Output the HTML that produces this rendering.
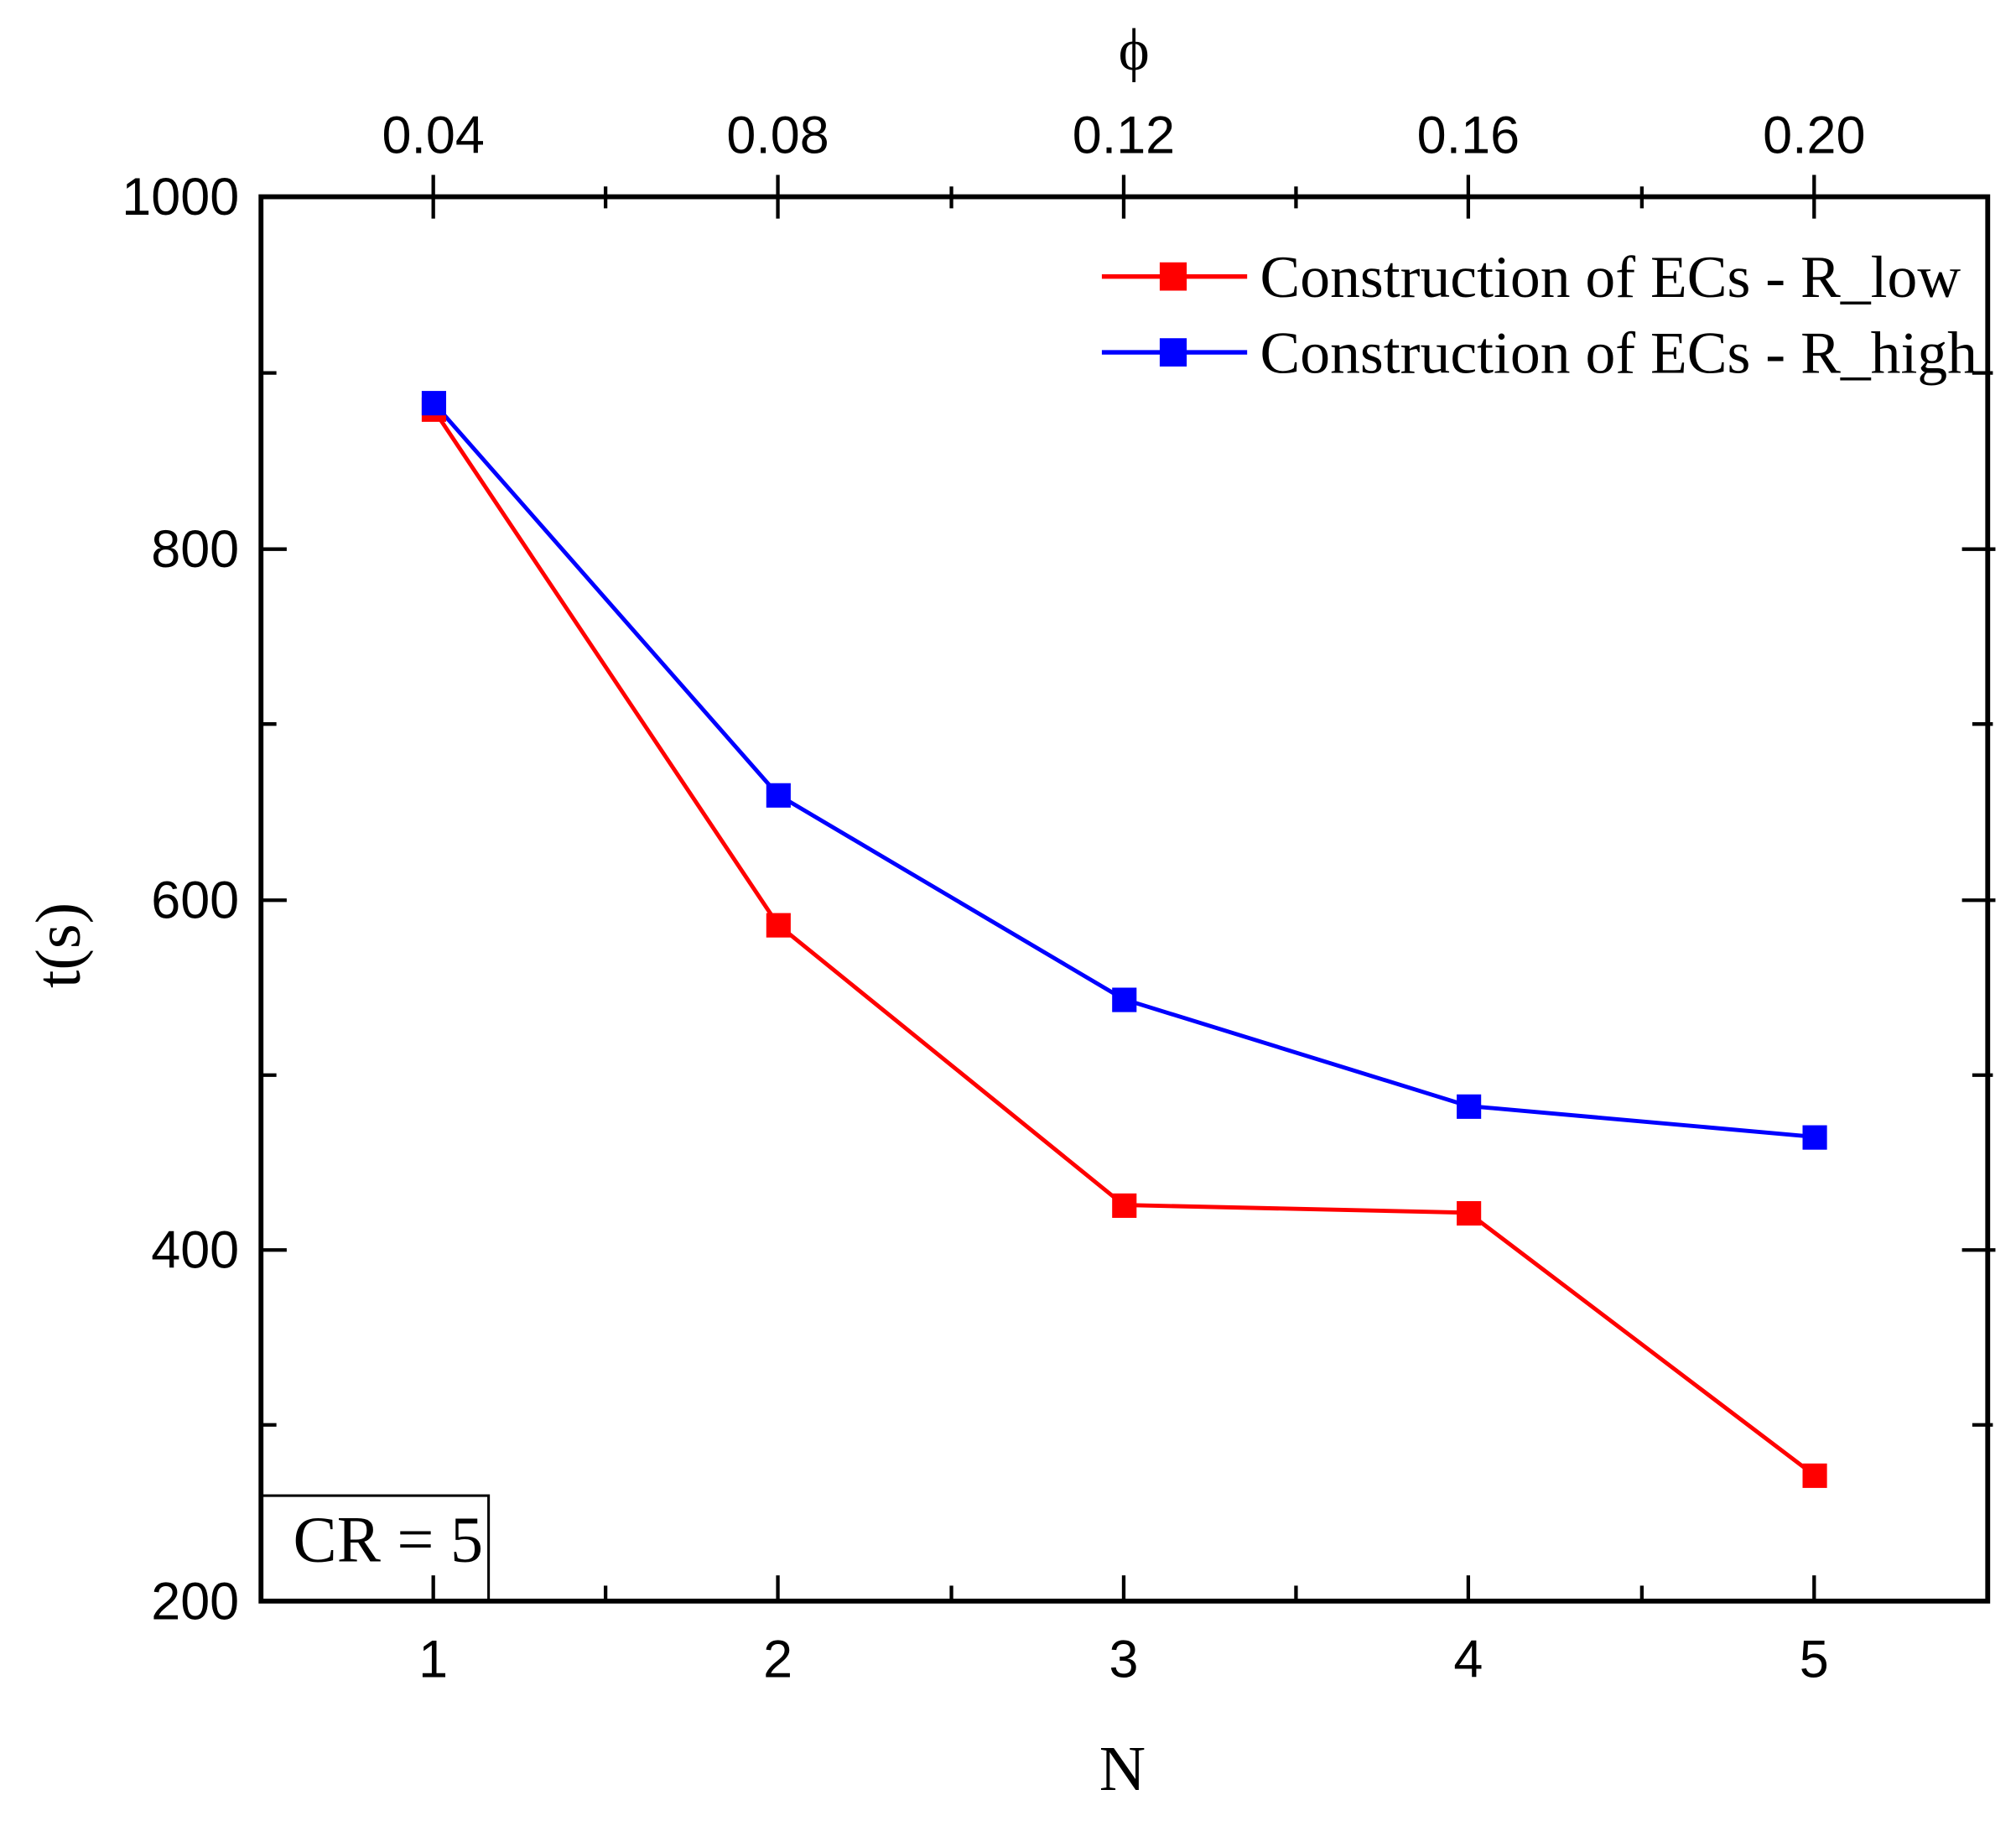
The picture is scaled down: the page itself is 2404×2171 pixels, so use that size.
<!DOCTYPE html>
<html><head><meta charset="utf-8"><style>
html,body{margin:0;padding:0;background:#fff}
svg{display:block}
</style></head><body>
<svg width="2404" height="2171" viewBox="0 0 1568 1416" preserveAspectRatio="none" xmlns="http://www.w3.org/2000/svg">
<rect width="1568" height="1416" fill="#fff"/>
<g stroke="#000" stroke-width="2.8">
<line x1="337" y1="1245" x2="337" y2="1225"/><line x1="605" y1="1245" x2="605" y2="1225"/><line x1="874" y1="1245" x2="874" y2="1225"/><line x1="1142" y1="1245" x2="1142" y2="1225"/><line x1="1411" y1="1245" x2="1411" y2="1225"/>
<line x1="471" y1="1245" x2="471" y2="1233"/><line x1="740" y1="1245" x2="740" y2="1233"/><line x1="1008" y1="1245" x2="1008" y2="1233"/><line x1="1277" y1="1245" x2="1277" y2="1233"/>
<line x1="337" y1="136" x2="337" y2="170"/><line x1="605" y1="136" x2="605" y2="170"/><line x1="874" y1="136" x2="874" y2="170"/><line x1="1142" y1="136" x2="1142" y2="170"/><line x1="1411" y1="136" x2="1411" y2="170"/>
<line x1="471" y1="145" x2="471" y2="162"/><line x1="740" y1="145" x2="740" y2="162"/><line x1="1008" y1="145" x2="1008" y2="162"/><line x1="1277" y1="145" x2="1277" y2="162"/>
<line x1="203" y1="427" x2="223" y2="427"/><line x1="203" y1="700" x2="223" y2="700"/><line x1="203" y1="972" x2="223" y2="972"/>
<line x1="203" y1="290" x2="215" y2="290"/><line x1="203" y1="563" x2="215" y2="563"/><line x1="203" y1="836" x2="215" y2="836"/><line x1="203" y1="1108" x2="215" y2="1108"/>
<line x1="1526" y1="427" x2="1552" y2="427"/><line x1="1526" y1="700" x2="1552" y2="700"/><line x1="1526" y1="972" x2="1552" y2="972"/>
<line x1="1534" y1="290" x2="1550" y2="290"/><line x1="1534" y1="563" x2="1550" y2="563"/><line x1="1534" y1="836" x2="1550" y2="836"/><line x1="1534" y1="1108" x2="1550" y2="1108"/>
</g>
<rect x="203" y="153" width="1343" height="1092" fill="none" stroke="#000" stroke-width="3.8"/>
<rect x="203" y="1163" width="177" height="82" fill="none" stroke="#000" stroke-width="2"/>
<text x="228" y="1214" font-family="Liberation Serif, serif" font-size="51">CR = 5</text>
<polyline points="337,318 605,719 874,937 1142,943 1411,1147" fill="none" stroke="#f00" stroke-width="3.2"/>
<polyline points="337,313 605,618 874,777 1142,860 1411,884" fill="none" stroke="#00f" stroke-width="3.2"/>
<g fill="#f00"><rect x="328" y="309" width="19" height="19"/><rect x="596" y="710" width="19" height="19"/><rect x="865" y="928" width="19" height="19"/><rect x="1133" y="934" width="19" height="19"/><rect x="1402" y="1138" width="19" height="19"/></g>
<g fill="#00f"><rect x="328" y="304" width="19" height="19"/><rect x="596" y="609" width="19" height="19"/><rect x="865" y="768" width="19" height="19"/><rect x="1133" y="851" width="19" height="19"/><rect x="1402" y="875" width="19" height="19"/></g>
<line x1="857" y1="215" x2="970" y2="215" stroke="#f00" stroke-width="3.5"/><rect x="902" y="204" width="21" height="22" fill="#f00"/>
<line x1="857" y1="274" x2="970" y2="274" stroke="#00f" stroke-width="3.5"/><rect x="902" y="263" width="21" height="22" fill="#00f"/>
<text x="980" y="231" font-family="Liberation Serif, serif" font-size="46" textLength="545" lengthAdjust="spacingAndGlyphs">Construction of ECs - R_low</text>
<text x="980" y="290" font-family="Liberation Serif, serif" font-size="46" textLength="558" lengthAdjust="spacingAndGlyphs">Construction of ECs - R_high</text>
<g font-family="Liberation Sans, sans-serif" font-size="41" text-anchor="middle">
<text x="337" y="119">0.04</text><text x="605" y="119">0.08</text><text x="874" y="119">0.12</text><text x="1142" y="119">0.16</text><text x="1411" y="119">0.20</text>
<text x="337" y="1304">1</text><text x="605" y="1304">2</text><text x="874" y="1304">3</text><text x="1142" y="1304">4</text><text x="1411" y="1304">5</text>
</g>
<g font-family="Liberation Sans, sans-serif" font-size="41" text-anchor="end">
<text x="186" y="167">1000</text><text x="186" y="441">800</text><text x="186" y="714">600</text><text x="186" y="986">400</text><text x="186" y="1259">200</text>
</g>
<text x="882" y="54" font-family="Liberation Serif, serif" font-size="46" text-anchor="middle">ϕ</text>
<text x="873" y="1392" font-family="Liberation Serif, serif" font-size="50" text-anchor="middle">N</text>
<text transform="translate(62,735) rotate(-90)" font-family="Liberation Serif, serif" font-size="50" text-anchor="middle">t(s)</text>
</svg>
</body></html>
